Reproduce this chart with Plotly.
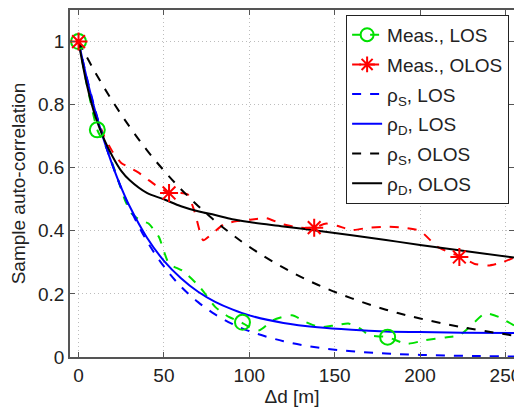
import plotly.graph_objects as go

# ---- data ----
meas_los_x = [0, 5, 11, 16, 22, 27, 31, 36, 41, 47, 53, 61, 71, 80, 88, 95, 100, 106, 114, 125, 133, 141, 150, 158, 165, 170, 181, 192, 203, 215, 223, 229, 238, 246, 255]
meas_los_y = [1.0, 0.86, 0.72, 0.667, 0.58, 0.50, 0.455, 0.434, 0.423, 0.381, 0.296, 0.273, 0.222, 0.159, 0.127, 0.111, 0.095, 0.085, 0.117, 0.132, 0.111, 0.095, 0.10, 0.106, 0.09, 0.069, 0.063, 0.042, 0.053, 0.062, 0.069, 0.095, 0.138, 0.127, 0.10]
meas_los_mk_x = [0, 11, 96, 181]
meas_los_mk_y = [1.0, 0.72, 0.11, 0.063]

meas_olos_x = [0, 5, 10, 15, 20, 25, 30, 35, 40, 45, 53, 60, 64, 68, 73, 78, 85, 92, 100, 110, 120, 130, 138, 145, 152, 160, 170, 180, 190, 200, 210, 218, 224, 232, 240, 248, 255]
meas_olos_y = [1.0, 0.87, 0.77, 0.70, 0.65, 0.615, 0.60, 0.585, 0.565, 0.545, 0.52, 0.52, 0.515, 0.46, 0.37, 0.39, 0.42, 0.43, 0.435, 0.44, 0.42, 0.41, 0.41, 0.423, 0.415, 0.402, 0.41, 0.413, 0.41, 0.40, 0.35, 0.33, 0.317, 0.295, 0.29, 0.30, 0.315]
meas_olos_mk_x = [0, 53, 138, 223]
meas_olos_mk_y = [1.0, 0.52, 0.41, 0.317]

model_x = [0, 5, 10, 15, 20, 25, 30, 40, 50, 60, 70, 80, 90, 100, 120, 140, 160, 180, 200, 225, 255]
rho_s_los = [1.0, 0.882, 0.779, 0.687, 0.607, 0.535, 0.472, 0.368, 0.287, 0.223, 0.174, 0.135, 0.105, 0.082, 0.050, 0.030, 0.018, 0.011, 0.0067, 0.0036, 0.0017]
rho_d_los = [1.0, 0.880, 0.775, 0.685, 0.606, 0.537, 0.477, 0.379, 0.305, 0.250, 0.207, 0.175, 0.151, 0.132, 0.108, 0.094, 0.086, 0.081, 0.079, 0.077, 0.076]

model_x2 = [0, 10, 20, 30, 40, 50, 60, 70, 80, 90, 100, 120, 140, 160, 180, 200, 225, 255]
rho_s_olos = [1.0, 0.900, 0.810, 0.729, 0.656, 0.591, 0.532, 0.479, 0.431, 0.388, 0.349, 0.283, 0.229, 0.186, 0.150, 0.122, 0.094, 0.068]
model_x3 = [0, 5, 10, 15, 20, 25, 30, 40, 50, 60, 70, 80, 90, 100, 120, 140, 160, 180, 200, 225, 255]
rho_d_olos = [1.0, 0.86, 0.76, 0.69, 0.635, 0.59, 0.56, 0.52, 0.50, 0.478, 0.462, 0.45, 0.437, 0.428, 0.414, 0.400, 0.386, 0.371, 0.355, 0.337, 0.315]

x_ticks = [0, 50, 100, 150, 200, 250]
y_ticks = [0, 0.2, 0.4, 0.6, 0.8, 1]
y_tick_labels = ["0", "0.2", "0.4", "0.6", "0.8", "1"]

GREEN = "#00e000"
RED = "#ff0000"
BLUE = "#0000ff"
BLACK = "#000000"
FONT = "Liberation Sans, Arial, sans-serif"

fig = go.Figure()

fig.add_trace(go.Scatter(x=meas_los_x, y=meas_los_y, mode="lines", showlegend=False,
                         line=dict(color=GREEN, width=2, dash="dash", shape="spline", smoothing=0.6)))
fig.add_trace(go.Scatter(x=meas_olos_x, y=meas_olos_y, mode="lines", showlegend=False,
                         line=dict(color=RED, width=2, dash="dash", shape="spline", smoothing=0.5)))
fig.add_trace(go.Scatter(x=model_x, y=rho_s_los, mode="lines", showlegend=False,
                         line=dict(color=BLUE, width=2, dash="dash", shape="spline")))
fig.add_trace(go.Scatter(x=model_x, y=rho_d_los, mode="lines", showlegend=False,
                         line=dict(color=BLUE, width=2, shape="spline")))
fig.add_trace(go.Scatter(x=model_x2, y=rho_s_olos, mode="lines", showlegend=False,
                         line=dict(color=BLACK, width=2, dash="dash", shape="spline")))
fig.add_trace(go.Scatter(x=model_x3, y=rho_d_olos, mode="lines", showlegend=False,
                         line=dict(color=BLACK, width=2, shape="spline")))
fig.add_trace(go.Scatter(x=meas_los_mk_x, y=meas_los_mk_y, mode="markers", showlegend=False,
                         marker=dict(symbol="circle-open", size=15, color=GREEN, line=dict(width=2, color=GREEN))))
fig.add_trace(go.Scatter(x=meas_olos_mk_x, y=meas_olos_mk_y, mode="markers", showlegend=False,
                         marker=dict(symbol="asterisk-open", size=15, color=RED, line=dict(width=2, color=RED))))

legend_items = [
    ("Meas., LOS", GREEN, "dash", "circle-open"),
    ("Meas., OLOS", RED, "dash", "asterisk-open"),
    ("ρ<sub>S</sub>, LOS", BLUE, "dash", None),
    ("ρ<sub>D</sub>, LOS", BLUE, "solid", None),
    ("ρ<sub>S</sub>, OLOS", BLACK, "dash", None),
    ("ρ<sub>D</sub>, OLOS", BLACK, "solid", None),
]
for i, (name, col, dash, sym) in enumerate(legend_items):
    if sym:
        fig.add_trace(go.Scatter(x=[None], y=[None], name=name, mode="lines+markers", legendgroup=f"g{i}",
                                 line=dict(color=col, width=2, dash=dash),
                                 marker=dict(symbol=sym, size=13, color=col, line=dict(width=2, color=col))))
    else:
        fig.add_trace(go.Scatter(x=[None], y=[None], name=name, mode="lines", legendgroup=f"g{i}",
                                 line=dict(color=col, width=2, dash=dash)))

axis_common = dict(
    showline=True, linecolor="#555555", linewidth=1.5, mirror="ticks",
    ticks="inside", ticklen=5, tickcolor="#555555", tickwidth=1,
    showgrid=True, gridcolor="#bdbdbd", griddash="1px,3px", gridwidth=1,
    zeroline=False, automargin=False,
    tickfont=dict(size=19, color="#222222", family=FONT),
)

fig.update_xaxes(range=[-5, 255], tickvals=x_ticks,
                 title=dict(text="Δd [m]", font=dict(size=19, color="#222222", family=FONT), standoff=4),
                 **axis_common)
fig.update_yaxes(range=[0, 1.1], tickvals=y_ticks, ticktext=y_tick_labels,
                 title=dict(text="Sample auto-correlation", font=dict(size=19, color="#222222", family=FONT), standoff=8),
                 **axis_common)

# the page body has an 8px default margin; size the figure to compensate
fig.update_layout(
    template="none",
    width=514, height=399,
    margin=dict(l=62, r=8, t=2, b=50),
    paper_bgcolor="white", plot_bgcolor="white",
    font=dict(family=FONT, size=19, color="#222222"),
    legend=dict(x=0.989, y=0.986, xanchor="right", yanchor="top",
                bgcolor="white", bordercolor="#222222", borderwidth=1,
                font=dict(size=19, family=FONT, color="#222222"),
                tracegroupgap=2, itemwidth=30),
)

fig.write_html("out.html")
